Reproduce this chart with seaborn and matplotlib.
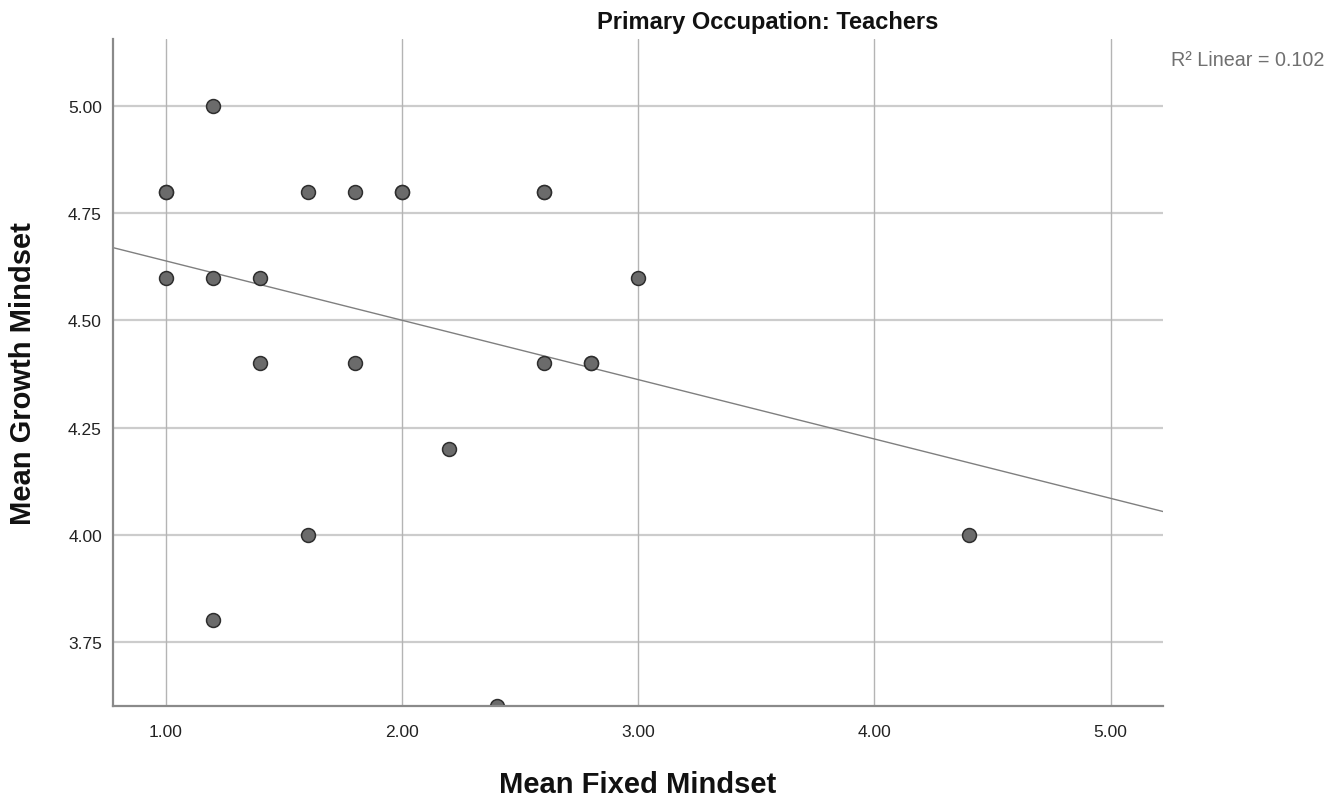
import matplotlib
matplotlib.use("Agg")
import matplotlib.pyplot as plt
import seaborn as sns
import pandas as pd

# Data (duplicates where markers look darker / overlapped)
fixed_mindset = [1.0, 1.0, 1.2, 1.6, 1.8, 2.0, 2.0, 2.6, 2.6,
                 1.0, 1.2, 1.4, 3.0,
                 1.4, 1.8, 2.6, 2.8, 2.8,
                 2.2,
                 1.6, 4.4,
                 1.2,
                 2.4]
growth_mindset = [4.8, 4.8, 5.0, 4.8, 4.8, 4.8, 4.8, 4.8, 4.8,
                  4.6, 4.6, 4.6, 4.6,
                  4.4, 4.4, 4.4, 4.4, 4.4,
                  4.2,
                  4.0, 4.0,
                  3.8,
                  3.6]
# Linear fit line (ends at the axis limits)
fit_x = [0.776, 5.222]
fit_y = [4.670, 4.054]
x_ticks = [1.0, 2.0, 3.0, 4.0, 5.0]
y_ticks = [3.75, 4.00, 4.25, 4.50, 4.75, 5.00]
title = "Primary Occupation: Teachers"
r2_text = "R\u00b2 Linear = 0.102"

df = pd.DataFrame({"Mean Fixed Mindset": fixed_mindset,
                   "Mean Growth Mindset": growth_mindset})
fit_df = pd.DataFrame({"x": fit_x, "y": fit_y})

sns.set_style("white")
plt.rcParams["font.family"] = ["Liberation Sans", "DejaVu Sans"]

fig = plt.figure(figsize=(13.34, 8.04), dpi=100)
ax = fig.add_axes([113/1334, 1 - 707/804, 1050/1334, 667/804])

xlim = (0.776, 5.222)
ylim = (3.60, 5.157)

# grid lines
for yt in y_ticks:
    ax.axhline(yt, color="#cccccc", lw=1.6, zorder=0)
for xt in x_ticks:
    ax.axvline(xt, color="#b4b4b4", lw=1.0, zorder=0)

sns.lineplot(data=fit_df, x="x", y="y", ax=ax, color="#7f7f7f", lw=1.0,
             zorder=2, legend=False)

sns.scatterplot(data=df, x="Mean Fixed Mindset", y="Mean Growth Mindset",
                ax=ax, s=100, color="#6b6b6b", edgecolor="#2e2e2e",
                linewidth=1.1, zorder=3, legend=False)

ax.set_xlim(*xlim)
ax.set_ylim(*ylim)
ax.set_xticks(x_ticks)
ax.set_yticks(y_ticks)
ax.set_xticklabels([f"{v:.2f}" for v in x_ticks])
ax.set_yticklabels([f"{v:.2f}" for v in y_ticks])
ax.tick_params(axis="both", length=0, labelsize=12.5, labelcolor="#222222")
ax.tick_params(axis="x", pad=13)
ax.tick_params(axis="y", pad=8)

for side in ["top", "right"]:
    ax.spines[side].set_visible(False)
for side in ["left", "bottom"]:
    ax.spines[side].set_color("#8a8a8a")
    ax.spines[side].set_linewidth(1.6)
    ax.spines[side].set_zorder(4)

ax.set_xlabel("Mean Fixed Mindset", fontsize=21, fontweight="bold", color="#111111")
ax.set_ylabel("Mean Growth Mindset", fontsize=21, fontweight="bold", color="#111111")
ax.xaxis.set_label_coords(0.5, (707 - 771) / 667)
ax.yaxis.set_label_coords((37 - 113) / 1050, 0.5)

fig.text(768/1334, 1 - 22/804, title, ha="center", va="center",
         fontsize=17, fontweight="bold", color="#111111")
fig.text(1171/1334, 1 - 60/804, r2_text, ha="left", va="center",
         fontsize=14.2, color="#707070")

fig.savefig("out.png", dpi=100, facecolor="white")
